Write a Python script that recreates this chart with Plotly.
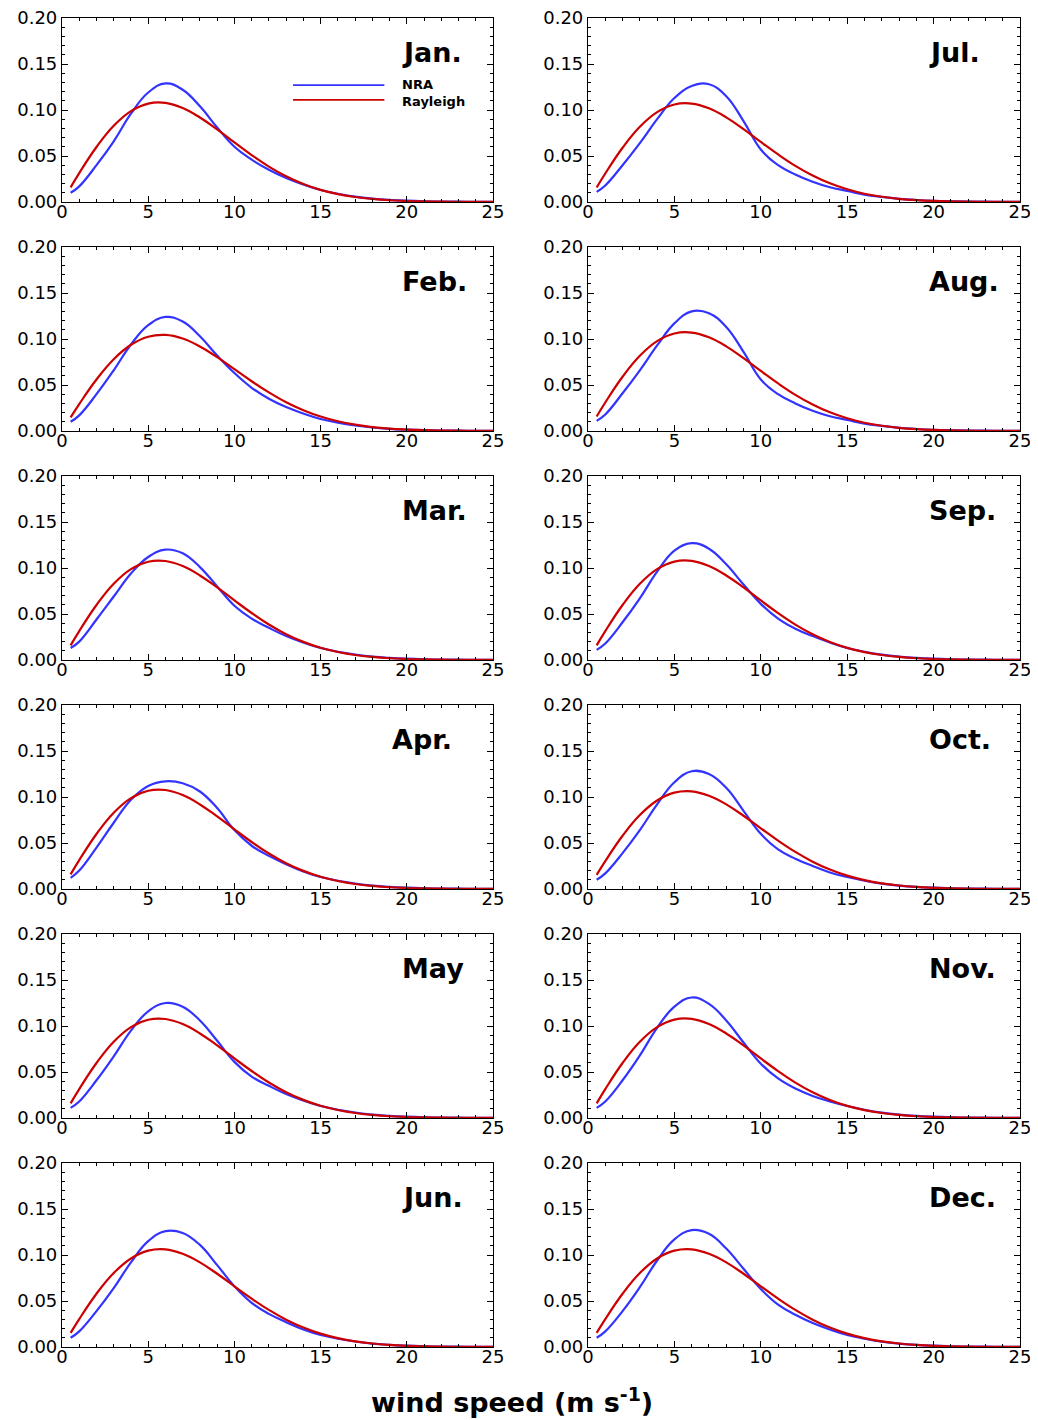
import plotly.graph_objects as go

# ---------------- data ----------------
wind_speed = [0.5, 1, 2, 3, 4, 5, 6, 7, 8, 9, 10, 11, 12, 13, 14, 15,
              16, 17, 18, 19, 20, 21, 22, 23, 24, 25]

months = ["Jan.", "Feb.", "Mar.", "Apr.", "May", "Jun.",
          "Jul.", "Aug.", "Sep.", "Oct.", "Nov.", "Dec."]

nra_jan = [0.010, 0.017, 0.040, 0.066, 0.096, 0.119, 0.129, 0.122, 0.104, 0.081, 0.060, 0.046, 0.035,
           0.026, 0.019, 0.013, 0.009, 0.0058, 0.0037, 0.0023, 0.0014, 0.0008, 0.0005, 0.0003, 0.0002, 0.0001]
nra_feb = [0.010, 0.017, 0.040, 0.066, 0.094, 0.115, 0.124, 0.119, 0.103, 0.082, 0.063, 0.047, 0.035,
           0.026, 0.019, 0.013, 0.009, 0.0060, 0.0038, 0.0024, 0.0015, 0.0009, 0.0005, 0.0003, 0.0002, 0.0001]
nra_mar = [0.013, 0.020, 0.044, 0.069, 0.094, 0.112, 0.120, 0.116, 0.101, 0.080, 0.059, 0.045, 0.035,
           0.026, 0.019, 0.013, 0.009, 0.0060, 0.0037, 0.0023, 0.0014, 0.0008, 0.0005, 0.0003, 0.0002, 0.0001]
nra_apr = [0.012, 0.020, 0.045, 0.072, 0.097, 0.112, 0.117, 0.115, 0.106, 0.088, 0.064, 0.047, 0.036,
           0.027, 0.019, 0.013, 0.009, 0.0060, 0.0037, 0.0023, 0.0014, 0.0008, 0.0005, 0.0003, 0.0002, 0.0001]
nra_may = [0.011, 0.018, 0.041, 0.067, 0.095, 0.116, 0.125, 0.121, 0.106, 0.084, 0.061, 0.045, 0.035,
           0.026, 0.019, 0.013, 0.009, 0.0060, 0.0037, 0.0023, 0.0014, 0.0008, 0.0005, 0.0003, 0.0002, 0.0001]
nra_jun = [0.010, 0.017, 0.039, 0.064, 0.092, 0.115, 0.126, 0.124, 0.111, 0.089, 0.066, 0.048, 0.036,
           0.027, 0.019, 0.013, 0.009, 0.0060, 0.0037, 0.0023, 0.0014, 0.0008, 0.0005, 0.0003, 0.0002, 0.0001]
nra_jul = [0.011, 0.018, 0.040, 0.064, 0.090, 0.113, 0.126, 0.128, 0.115, 0.088, 0.057, 0.040, 0.030,
           0.022, 0.016, 0.012, 0.008, 0.0055, 0.0035, 0.0022, 0.0013, 0.0008, 0.0005, 0.0003, 0.0002, 0.0001]
nra_aug = [0.011, 0.018, 0.041, 0.066, 0.093, 0.117, 0.130, 0.128, 0.113, 0.086, 0.056, 0.040, 0.030,
           0.022, 0.016, 0.012, 0.008, 0.0055, 0.0035, 0.0022, 0.0013, 0.0008, 0.0005, 0.0003, 0.0002, 0.0001]
nra_sep = [0.011, 0.018, 0.041, 0.067, 0.096, 0.119, 0.127, 0.121, 0.104, 0.082, 0.061, 0.045, 0.034,
           0.026, 0.019, 0.013, 0.009, 0.0058, 0.0037, 0.0023, 0.0014, 0.0008, 0.0005, 0.0003, 0.0002, 0.0001]
nra_oct = [0.010, 0.017, 0.039, 0.064, 0.092, 0.116, 0.128, 0.125, 0.110, 0.085, 0.060, 0.043, 0.033,
           0.025, 0.018, 0.013, 0.009, 0.0058, 0.0037, 0.0023, 0.0014, 0.0008, 0.0005, 0.0003, 0.0002, 0.0001]
nra_nov = [0.011, 0.018, 0.041, 0.068, 0.098, 0.121, 0.131, 0.124, 0.106, 0.082, 0.059, 0.043, 0.032,
           0.024, 0.018, 0.013, 0.009, 0.0058, 0.0037, 0.0023, 0.0014, 0.0008, 0.0005, 0.0003, 0.0002, 0.0001]
nra_dec = [0.010, 0.017, 0.039, 0.065, 0.094, 0.117, 0.127, 0.123, 0.107, 0.085, 0.063, 0.046, 0.035,
           0.026, 0.019, 0.013, 0.009, 0.0058, 0.0037, 0.0023, 0.0014, 0.0008, 0.0005, 0.0003, 0.0002, 0.0001]

ray_jan = [0.0159, 0.0314, 0.0598, 0.0829, 0.0988, 0.1070, 0.1078, 0.1022, 0.0919, 0.0789, 0.0647, 0.0510, 0.0385,
           0.0280, 0.0196, 0.0132, 0.0086, 0.0054, 0.0033, 0.0019, 0.0011, 0.0006, 0.0003, 0.00015, 0.00007, 0.00003]
ray_feb = [0.0148, 0.0293, 0.0560, 0.0780, 0.0937, 0.1025, 0.1044, 0.1005, 0.0919, 0.0803, 0.0672, 0.0541, 0.0420,
           0.0313, 0.0226, 0.0157, 0.0106, 0.0069, 0.0043, 0.0026, 0.0016, 0.0009, 0.0005, 0.0003, 0.0001, 0.0001]
ray_mar = [0.0159, 0.0314, 0.0598, 0.0829, 0.0988, 0.1068, 0.1076, 0.1021, 0.0919, 0.0789, 0.0648, 0.0511, 0.0386,
           0.0281, 0.0197, 0.0133, 0.0087, 0.0054, 0.0033, 0.0019, 0.0011, 0.0006, 0.0003, 0.00015, 0.00007, 0.00003]
ray_apr = [0.0159, 0.0314, 0.0598, 0.0829, 0.0988, 0.1068, 0.1076, 0.1021, 0.0919, 0.0789, 0.0648, 0.0511, 0.0386,
           0.0281, 0.0197, 0.0133, 0.0087, 0.0054, 0.0033, 0.0019, 0.0011, 0.0006, 0.0003, 0.00015, 0.00007, 0.00003]
ray_may = [0.0159, 0.0314, 0.0598, 0.0829, 0.0988, 0.1068, 0.1076, 0.1021, 0.0919, 0.0789, 0.0648, 0.0511, 0.0386,
           0.0281, 0.0197, 0.0133, 0.0087, 0.0054, 0.0033, 0.0019, 0.0011, 0.0006, 0.0003, 0.00015, 0.00007, 0.00003]
ray_jun = [0.0153, 0.0303, 0.0579, 0.0804, 0.0962, 0.1047, 0.1061, 0.1013, 0.0920, 0.0796, 0.0660, 0.0526, 0.0403,
           0.0297, 0.0211, 0.0145, 0.0096, 0.0061, 0.0038, 0.0023, 0.0013, 0.0007, 0.0004, 0.0002, 0.0001, 0.00005]
ray_jul = [0.0157, 0.0310, 0.0590, 0.0818, 0.0977, 0.1060, 0.1070, 0.1018, 0.0920, 0.0792, 0.0653, 0.0517, 0.0393,
           0.0288, 0.0203, 0.0138, 0.0090, 0.0057, 0.0035, 0.0021, 0.0012, 0.0007, 0.0004, 0.0002, 0.0001, 0.00004]
ray_aug = [0.0157, 0.0310, 0.0590, 0.0818, 0.0977, 0.1060, 0.1070, 0.1018, 0.0920, 0.0792, 0.0653, 0.0517, 0.0393,
           0.0288, 0.0203, 0.0138, 0.0090, 0.0057, 0.0035, 0.0021, 0.0012, 0.0007, 0.0004, 0.0002, 0.0001, 0.00004]
ray_sep = [0.0159, 0.0314, 0.0598, 0.0829, 0.0988, 0.1070, 0.1078, 0.1022, 0.0919, 0.0789, 0.0647, 0.0510, 0.0385,
           0.0280, 0.0196, 0.0132, 0.0086, 0.0054, 0.0033, 0.0019, 0.0011, 0.0006, 0.0003, 0.00015, 0.00007, 0.00003]
ray_oct = [0.0153, 0.0303, 0.0579, 0.0804, 0.0962, 0.1047, 0.1061, 0.1013, 0.0920, 0.0796, 0.0660, 0.0526, 0.0403,
           0.0297, 0.0211, 0.0145, 0.0096, 0.0061, 0.0038, 0.0023, 0.0013, 0.0007, 0.0004, 0.0002, 0.0001, 0.00005]
ray_nov = [0.0159, 0.0314, 0.0598, 0.0829, 0.0988, 0.1070, 0.1078, 0.1022, 0.0919, 0.0789, 0.0647, 0.0510, 0.0385,
           0.0280, 0.0196, 0.0132, 0.0086, 0.0054, 0.0033, 0.0019, 0.0011, 0.0006, 0.0003, 0.00015, 0.00007, 0.00003]
ray_dec = [0.0153, 0.0303, 0.0579, 0.0804, 0.0962, 0.1047, 0.1061, 0.1013, 0.0920, 0.0796, 0.0660, 0.0526, 0.0403,
           0.0297, 0.0211, 0.0145, 0.0096, 0.0061, 0.0038, 0.0023, 0.0013, 0.0007, 0.0004, 0.0002, 0.0001, 0.00005]

x_ticks = [0, 5, 10, 15, 20, 25]
y_ticks = [0.00, 0.05, 0.10, 0.15, 0.20]

nra_all = [nra_jan, nra_feb, nra_mar, nra_apr, nra_may, nra_jun,
           nra_jul, nra_aug, nra_sep, nra_oct, nra_nov, nra_dec]
ray_all = [ray_jan, ray_feb, ray_mar, ray_apr, ray_may, ray_jun,
           ray_jul, ray_aug, ray_sep, ray_oct, ray_nov, ray_dec]

# ---------------- layout helpers ----------------
OFF = 8                      # page body margin of the browser
W, H = 1038 - OFF, 1420 - OFF  # figure size so that it fits the window
BLUE = "#3333ff"
RED = "#cc0000"
TICK_FONT = dict(family="DejaVu Sans", size=18, color="black")

# positions measured in page pixels, converted to figure pixels
col_px = [(62 - OFF, 493 - OFF), (588 - OFF, 1020 - OFF)]
row_top = [t - OFF for t in [18, 247, 476, 705, 934, 1163]]
row_h = 184

fig = go.Figure()
layout = dict(
    width=W, height=H, margin=dict(l=0, r=0, t=0, b=0, autoexpand=False),
    plot_bgcolor="white", paper_bgcolor="white", showlegend=False,
)
annotations = []
shapes = []

for i, m in enumerate(months):
    col = i // 6
    row = i % 6
    k = i + 1
    xs = "" if k == 1 else str(k)
    x0, x1 = col_px[col]
    top = row_top[row]
    bot = top + row_h
    xdom = [x0 / W, x1 / W]
    ydom = [1 - bot / H, 1 - top / H]

    fig.add_trace(go.Scatter(x=wind_speed, y=nra_all[i], mode="lines", name="NRA",
                             line=dict(color=BLUE, width=2.2, shape="spline", smoothing=1.2),
                             xaxis="x" + xs, yaxis="y" + xs))
    fig.add_trace(go.Scatter(x=wind_speed, y=ray_all[i], mode="lines", name="Rayleigh",
                             line=dict(color=RED, width=2.2, shape="spline", smoothing=1.2),
                             xaxis="x" + xs, yaxis="y" + xs))

    layout["xaxis" + xs] = dict(
        domain=xdom, anchor="y" + xs, range=[0, 25], automargin=False,
        tickvals=x_ticks, ticktext=[str(v) for v in x_ticks],
        ticks="inside", ticklen=6, tickwidth=1, tickcolor="black",
        minor=dict(ticks="inside", ticklen=3, dtick=1, tickcolor="black", tickwidth=1),
        showline=True, linecolor="black", linewidth=1.2, mirror="allticks",
        showgrid=False, zeroline=False, tickfont=TICK_FONT, fixedrange=True,
        ticklabelstandoff=-7, ticklabeloverflow="allow",
    )
    layout["yaxis" + xs] = dict(
        domain=ydom, anchor="x" + xs, range=[0, 0.20], automargin=False,
        tickvals=y_ticks, ticktext=["%.2f" % v for v in y_ticks],
        ticks="inside", ticklen=6, tickwidth=1, tickcolor="black",
        minor=dict(ticks="inside", ticklen=3, dtick=0.01, tickcolor="black", tickwidth=1),
        showline=True, linecolor="black", linewidth=1.2, mirror="allticks",
        showgrid=False, zeroline=False, tickfont=TICK_FONT, fixedrange=True,
        ticklabeloverflow="allow",
    )

    lx = 19.0 if m == "Apr." else 19.6
    annotations.append(dict(
        x=lx, y=0.163, xref="x" + xs, yref="y" + xs, text="<b>%s</b>" % m,
        showarrow=False, xanchor="left", yanchor="middle",
        font=dict(family="DejaVu Sans", size=27, color="black"),
    ))

# legend in the Jan. panel
shapes.append(dict(type="line", xref="x", yref="y", x0=13.4, x1=18.7, y0=0.127, y1=0.127,
                   line=dict(color=BLUE, width=1.8)))
shapes.append(dict(type="line", xref="x", yref="y", x0=13.4, x1=18.7, y0=0.111, y1=0.111,
                   line=dict(color=RED, width=1.8)))
annotations.append(dict(x=19.6, y=0.119, xref="x", yref="y", text="<b>NRA</b><br><b>Rayleigh</b>",
                        showarrow=False, xanchor="left", yanchor="middle", align="left",
                        font=dict(family="DejaVu Sans", size=13, color="black")))

# overall x-axis title
annotations.append(dict(x=(512 - OFF) / W, y=1 - (1400 - OFF) / H, xref="paper", yref="paper",
                        text="<b>wind speed (m s<sup>-1</sup>)</b>", showarrow=False,
                        xanchor="center", yanchor="middle",
                        font=dict(family="DejaVu Sans", size=27, color="black")))

layout["annotations"] = annotations
layout["shapes"] = shapes
fig.update_layout(**layout)
fig.write_html("out.html")
